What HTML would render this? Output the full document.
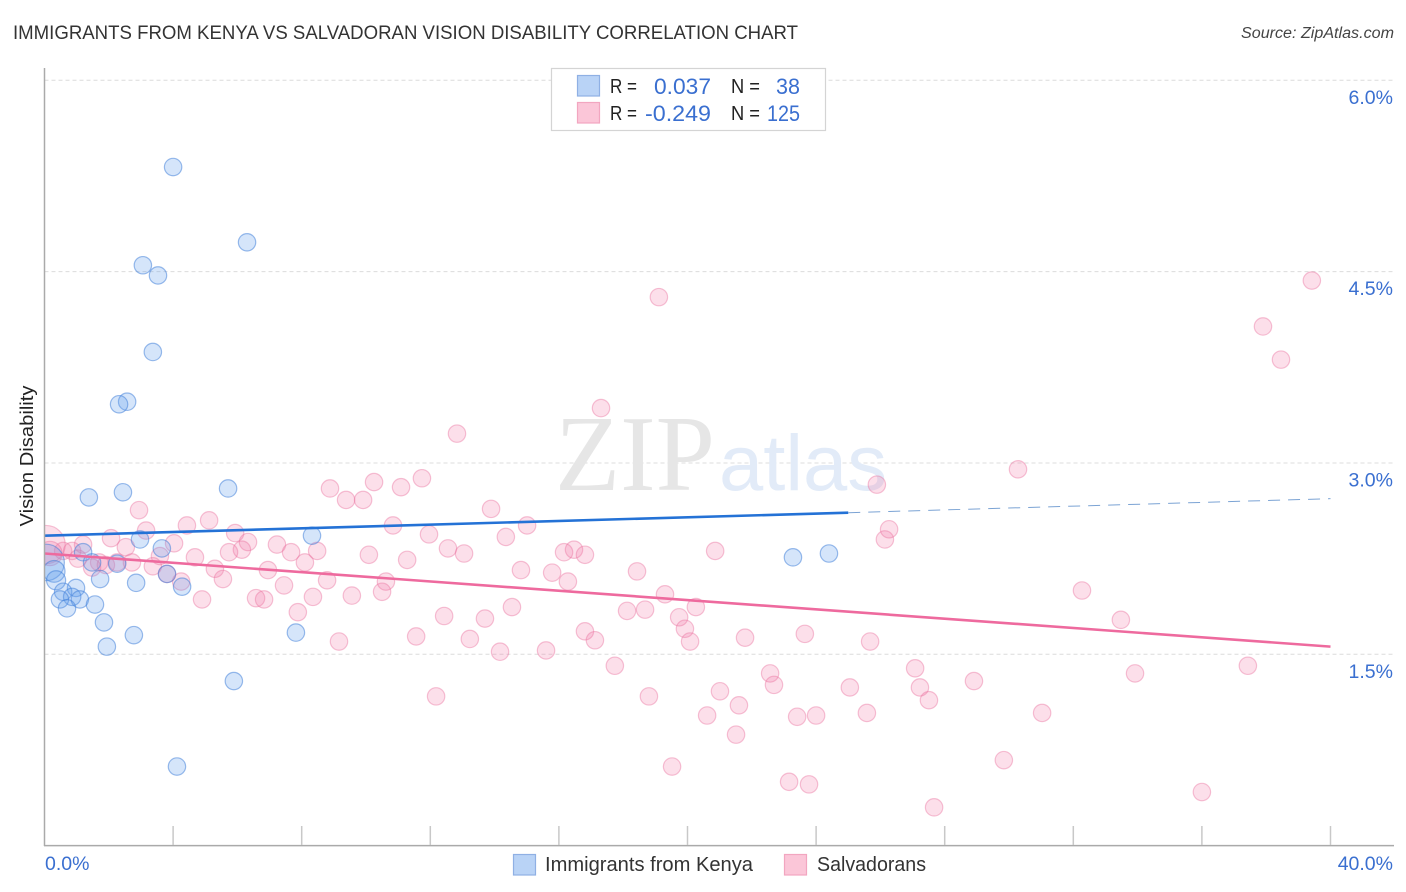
<!DOCTYPE html>
<html lang="en">
<head>
<meta charset="utf-8">
<title>Immigrants from Kenya vs Salvadoran Vision Disability Correlation Chart</title>
<style>
html,body{margin:0;padding:0;background:#fff;}
svg{display:block;font-family:"Liberation Sans",sans-serif;}
</style>
</head>
<body>
<svg id="chart" width="1406" height="892" viewBox="0 0 1406 892" xmlns="http://www.w3.org/2000/svg">
  <defs><clipPath id="plot-clip"><rect x="44.5" y="60" width="1350" height="786"/></clipPath></defs>
  <text x="13" y="39" font-size="19.5" fill="#333" textLength="785" lengthAdjust="spacingAndGlyphs">IMMIGRANTS FROM KENYA VS SALVADORAN VISION DISABILITY CORRELATION CHART</text>
  <text x="1241" y="38" font-size="15.5" font-style="italic" fill="#444" textLength="153" lengthAdjust="spacingAndGlyphs">Source: ZipAtlas.com</text>
  <text transform="translate(33,456) rotate(-90)" font-size="18.7" fill="#222" text-anchor="middle" textLength="141" lengthAdjust="spacingAndGlyphs">Vision Disability</text>
  <g id="grid"></g>
  <g>
    <text x="555" y="490" font-family="'Liberation Serif',serif" font-size="108" fill="#e6e6e6" textLength="160" lengthAdjust="spacingAndGlyphs">ZIP</text>
    <text x="719" y="490" font-size="79" fill="#e2ebf8" textLength="168" lengthAdjust="spacingAndGlyphs">atlas</text>
  </g>
  <g id="points" clip-path="url(#plot-clip)"></g>
  <g id="trends"></g>
  <g id="axes"></g>
  <g id="labels"></g>

  <g>
    <rect x="551.5" y="68.5" width="274" height="62" fill="#fff" stroke="#d4d4d4" stroke-width="1.2"/>
    <rect x="577.5" y="75.5" width="22" height="20.5" fill="#b9d3f6" stroke="#8fb0e4" stroke-width="1.2"/>
    <rect x="577.5" y="102.5" width="22" height="20.5" fill="#fbc6d8" stroke="#f2a6c0" stroke-width="1.2"/>
    <g font-size="20" fill="#222">
      <text x="610" y="93" textLength="27" lengthAdjust="spacingAndGlyphs">R =</text>
      <text x="731" y="93" textLength="29" lengthAdjust="spacingAndGlyphs">N =</text>
      <text x="610" y="120" textLength="27" lengthAdjust="spacingAndGlyphs">R =</text>
      <text x="731" y="120" textLength="29" lengthAdjust="spacingAndGlyphs">N =</text>
    </g>
    <g font-size="22" fill="#3a6fd0">
      <text x="654" y="94" textLength="57" lengthAdjust="spacingAndGlyphs">0.037</text>
      <text x="776" y="94" textLength="24" lengthAdjust="spacingAndGlyphs">38</text>
      <text x="645" y="121" textLength="66" lengthAdjust="spacingAndGlyphs">-0.249</text>
      <text x="767" y="121" textLength="33" lengthAdjust="spacingAndGlyphs">125</text>
    </g>
  </g>

  <g>
    <g>
      <rect x="513.5" y="854.5" width="22" height="20.5" fill="#b9d3f6" stroke="#8fb0e4" stroke-width="1.2"/>
      <text x="545" y="871" font-size="20" fill="#333" textLength="208" lengthAdjust="spacingAndGlyphs">Immigrants from Kenya</text>
    </g>
    <g>
      <rect x="784.5" y="854.5" width="22" height="20.5" fill="#fbc6d8" stroke="#f2a6c0" stroke-width="1.2"/>
      <text x="817" y="871" font-size="20" fill="#333" textLength="109" lengthAdjust="spacingAndGlyphs">Salvadorans</text>
    </g>
  </g>
</svg>
<script>
const yTickValues = [1.5, 3.0, 4.5, 6.0];
const yTickLabels = ["1.5%", "3.0%", "4.5%", "6.0%"];
const xTickValues = [0, 4, 8, 12, 16, 20, 24, 28, 32, 36, 40];
const xEndLabels = ["0.0%", "40.0%"];

const kenyaX = [4.00,6.30,3.06,3.53,3.37,2.57,2.32,1.38,2.44,5.71,8.32,2.97,3.65,1.20,23.28,24.40,1.48,2.26,0.05,0.30,0.36,1.73,2.85,3.81,4.28,0.98,0.58,0.86,0.48,1.10,0.70,1.57,1.85,2.78,7.82,1.94,5.89,4.12];
const kenyaY = [5.32,4.73,4.55,4.47,3.87,3.48,3.46,2.73,2.77,2.80,2.43,2.40,2.33,2.30,2.26,2.29,2.22,2.21,2.22,2.15,2.08,2.09,2.06,2.13,2.03,2.02,1.99,1.95,1.93,1.93,1.86,1.89,1.75,1.65,1.67,1.56,1.29,0.62];
const kenyaSize = [1,1,1,1,1,1,1,1,1,1,1,1,1,1,1,1,1,1,2.1,1.25,1.1,1,1,1,1,1,1,1,1,1,1,1,1,1,1,1,1,1];

const salvadoranX = [39.42,19.11,37.90,38.46,17.31,12.83,30.28,25.89,11.74,10.25,11.09,8.88,9.38,9.91,2.94,13.89,15.01,10.84,4.43,5.12,3.16,5.93,11.96,2.07,4.03,6.33,14.35,1.20,7.23,12.55,6.14,5.74,8.48,7.67,16.47,16.16,16.81,13.05,20.86,26.14,26.27,10.09,11.28,4.68,3.59,2.53,0.58,0.86,1.04,1.70,1.48,1.91,2.26,2.72,3.37,3.81,4.25,5.30,5.55,4.90,6.58,6.83,6.95,8.10,8.79,7.45,8.35,7.88,9.16,14.82,15.79,16.28,18.43,10.62,10.50,9.56,19.30,14.54,18.12,18.68,19.74,20.26,19.92,20.08,12.43,13.70,16.81,17.12,11.56,13.23,14.17,15.60,17.74,12.18,18.80,21.79,23.65,25.68,27.08,27.23,27.51,25.05,22.57,22.69,21.01,21.60,20.61,23.41,24.00,25.58,21.51,19.52,23.16,23.78,27.67,28.91,31.03,29.84,36.00,33.92,37.43,33.48,32.27,0.05,0.17];
const salvadoranY = [4.43,4.30,4.07,3.81,3.43,3.23,2.95,2.83,2.88,2.85,2.81,2.80,2.71,2.71,2.63,2.64,2.51,2.51,2.51,2.55,2.47,2.45,2.44,2.41,2.37,2.38,2.42,2.36,2.36,2.33,2.32,2.30,2.31,2.30,2.32,2.30,2.28,2.29,2.31,2.40,2.48,2.28,2.24,2.26,2.27,2.34,2.31,2.31,2.25,2.22,2.18,2.20,2.22,2.22,2.19,2.13,2.07,2.17,2.09,1.93,1.94,1.93,2.16,2.22,2.08,2.04,1.95,1.83,1.60,2.16,2.14,2.07,2.15,2.07,1.99,1.96,1.97,1.87,1.84,1.85,1.79,1.87,1.70,1.60,1.80,1.78,1.68,1.61,1.64,1.62,1.52,1.53,1.41,1.17,1.17,1.63,1.66,1.60,1.39,1.24,1.14,1.24,1.35,1.26,1.21,1.10,1.02,1.01,1.02,1.04,0.87,0.62,0.50,0.48,0.30,1.29,1.04,0.67,0.42,1.35,1.41,1.77,2.00,2.36,2.29];
const salvadoranSize = [1,1,1,1,1,1,1,1,1,1,1,1,1,1,1,1,1,1,1,1,1,1,1,1,1,1,1,1,1,1,1,1,1,1,1,1,1,1,1,1,1,1,1,1,1,1,1,1,1,1,1,1,1,1,1,1,1,1,1,1,1,1,1,1,1,1,1,1,1,1,1,1,1,1,1,1,1,1,1,1,1,1,1,1,1,1,1,1,1,1,1,1,1,1,1,1,1,1,1,1,1,1,1,1,1,1,1,1,1,1,1,1,1,1,1,1,1,1,1,1,1,1,1,2.2,1.4];

const kenyaTrendX = [0, 25];
const kenyaTrendY = [2.43, 2.61];
const kenyaDashX = [25, 40];
const kenyaDashY = [2.61, 2.72];
const salvadoranTrendX = [0, 40];
const salvadoranTrendY = [2.29, 1.56];

const NS = "http://www.w3.org/2000/svg";
const sx = v => 44.5 + v * 32.15;
const sy = v => 845.6 - v * 127.55;
const BASE_R = 8.7;

function mk(tag, parent, attrs) {
  const el = document.createElementNS(NS, tag);
  for (const k in attrs) el.setAttribute(k, attrs[k]);
  parent.appendChild(el);
  return el;
}

const grid = document.getElementById("grid");
yTickValues.forEach(v => {
  const l = mk("line", grid, {x1: 44.5, x2: 1394, y1: sy(v), y2: sy(v), stroke: "#dcdcdc", "stroke-width": 1, "stroke-dasharray": "4 3"});
  
  
});

const points = document.getElementById("points");
salvadoranX.forEach((x, i) => {
  const c = mk("circle", points, {cx: sx(x), cy: sy(salvadoranY[i]), r: BASE_R * salvadoranSize[i], fill: "#f27ba6", "fill-opacity": 0.24, stroke: "#e9709d", "stroke-opacity": 0.42, "stroke-width": 1.2});
  
  
});
kenyaX.forEach((x, i) => {
  const c = mk("circle", points, {cx: sx(x), cy: sy(kenyaY[i]), r: BASE_R * kenyaSize[i], fill: "#64a0ec", "fill-opacity": 0.27, stroke: "#3f7fd8", "stroke-opacity": 0.52, "stroke-width": 1.2});
  
  
});

const trends = document.getElementById("trends");
const kLine = mk("line", trends, {x1: sx(kenyaTrendX[0]), y1: sy(kenyaTrendY[0]), x2: sx(kenyaTrendX[1]), y2: sy(kenyaTrendY[1]), stroke: "#2472d6", "stroke-width": 2.6});


const kDash = mk("line", trends, {x1: sx(kenyaDashX[0]), y1: sy(kenyaDashY[0]), x2: sx(kenyaDashX[1]), y2: sy(kenyaDashY[1]), stroke: "#7ba3d4", "stroke-width": 1, "stroke-dasharray": "12 8"});


const sLine = mk("line", trends, {x1: sx(salvadoranTrendX[0]), y1: sy(salvadoranTrendY[0]), x2: sx(salvadoranTrendX[1]), y2: sy(salvadoranTrendY[1]), stroke: "#ee6a9e", "stroke-width": 2.6});



const axes = document.getElementById("axes");
const yAxis = mk("line", axes, {x1: 44.5, x2: 44.5, y1: 68, y2: 846, stroke: "#aaa", "stroke-width": 1.5});


const xAxis = mk("line", axes, {x1: 44, x2: 1394, y1: 845.6, y2: 845.6, stroke: "#aaa", "stroke-width": 1.5});


xTickValues.slice(1).forEach(v => {
  const t = mk("line", axes, {x1: sx(v), x2: sx(v), y1: 826, y2: 845, stroke: "#c8c8c8", "stroke-width": 1.5});
  
  
});

const labels = document.getElementById("labels");
yTickValues.forEach((v, i) => {
  const t = mk("text", labels, {x: 1393, y: sy(v) + 23.5, "font-size": 19.5, fill: "#3a6fd0", "text-anchor": "end"});
  t.textContent = yTickLabels[i];
  
  
});
const x0 = mk("text", labels, {x: 45, y: 870, "font-size": 19.5, fill: "#3a6fd0"});
x0.textContent = xEndLabels[0];


const x1 = mk("text", labels, {x: 1393, y: 870, "font-size": 19.5, fill: "#3a6fd0", "text-anchor": "end"});
x1.textContent = xEndLabels[1];


</script>
</body>
</html>
